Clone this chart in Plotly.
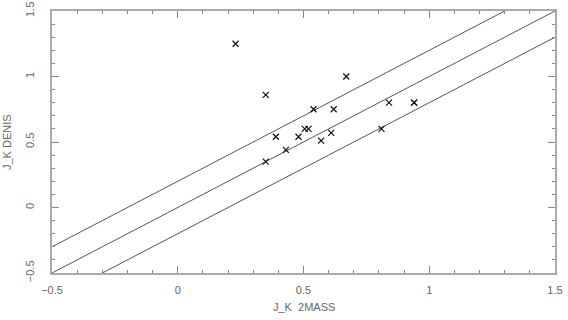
import numpy as np
import plotly.graph_objects as go

# J-K colours, 2MASS vs DENIS
jk_2mass = [0.23, 0.67, 0.35, 0.54, 0.62, 0.84, 0.94, 0.94, 0.505, 0.52,
            0.39, 0.48, 0.61, 0.57, 0.81, 0.43, 0.35]
jk_denis = [1.25, 1.00, 0.86, 0.75, 0.75, 0.80, 0.80, 0.80, 0.60, 0.60,
            0.54, 0.54, 0.57, 0.51, 0.60, 0.44, 0.35]

# reference lines y = x + offset
line_x = [-0.5, 1.5]
offsets = [0.2, 0.0, -0.2]

tick_vals = [-0.5, 0, 0.5, 1, 1.5]
tick_text = ["\u22120.5", "0", "0.5", "1", "1.5"]

fig = go.Figure()

for off in offsets:
    fig.add_trace(go.Scatter(x=line_x, y=[v + off for v in line_x], mode='lines',
                             line=dict(color='#555555', width=1), showlegend=False,
                             hoverinfo='skip'))

fig.add_trace(go.Scatter(x=jk_2mass, y=jk_denis, mode='markers',
                         marker=dict(symbol='x-thin', size=6, line=dict(color='#111111', width=1.2)),
                         showlegend=False))

axis_common = dict(
    range=[-0.5, 1.5], showgrid=False, zeroline=False,
    showline=True, linecolor='#aaaaaa', linewidth=1.5, mirror='ticks',
    ticks='inside', ticklen=7, tickcolor='#888888', tickwidth=1,
    tickvals=tick_vals, ticktext=tick_text,
    minor=dict(ticks='inside', ticklen=3.5, dtick=0.1, tick0=-0.5, tickcolor='#888888', showgrid=False),
    tickfont=dict(family='Liberation Sans', size=11, color='#666666'),
)

fig.update_xaxes(**axis_common, ticklabelstandoff=6)
fig.update_yaxes(**axis_common, tickangle=-90, ticklabelstandoff=12)

title_font = dict(family='Liberation Sans', size=11, color='#666666')
fig.add_annotation(text='J_K  2MASS', xref='paper', yref='paper', x=0.5, y=0,
                   yshift=-42, showarrow=False, font=title_font)
fig.add_annotation(text='J_K DENIS', xref='paper', yref='paper', x=0, y=0.5,
                   xshift=-53, textangle=-90, showarrow=False, font=title_font)

fig.update_layout(
    width=568, height=320,
    margin=dict(l=52, r=13, t=11, b=47, autoexpand=False),
    plot_bgcolor='white', paper_bgcolor='white',
)

# page body has a default 8px margin; remove it so the figure fills the window
fig.write_html("out.html", config={'displayModeBar': False},
               post_script="document.body.style.margin='0';")
